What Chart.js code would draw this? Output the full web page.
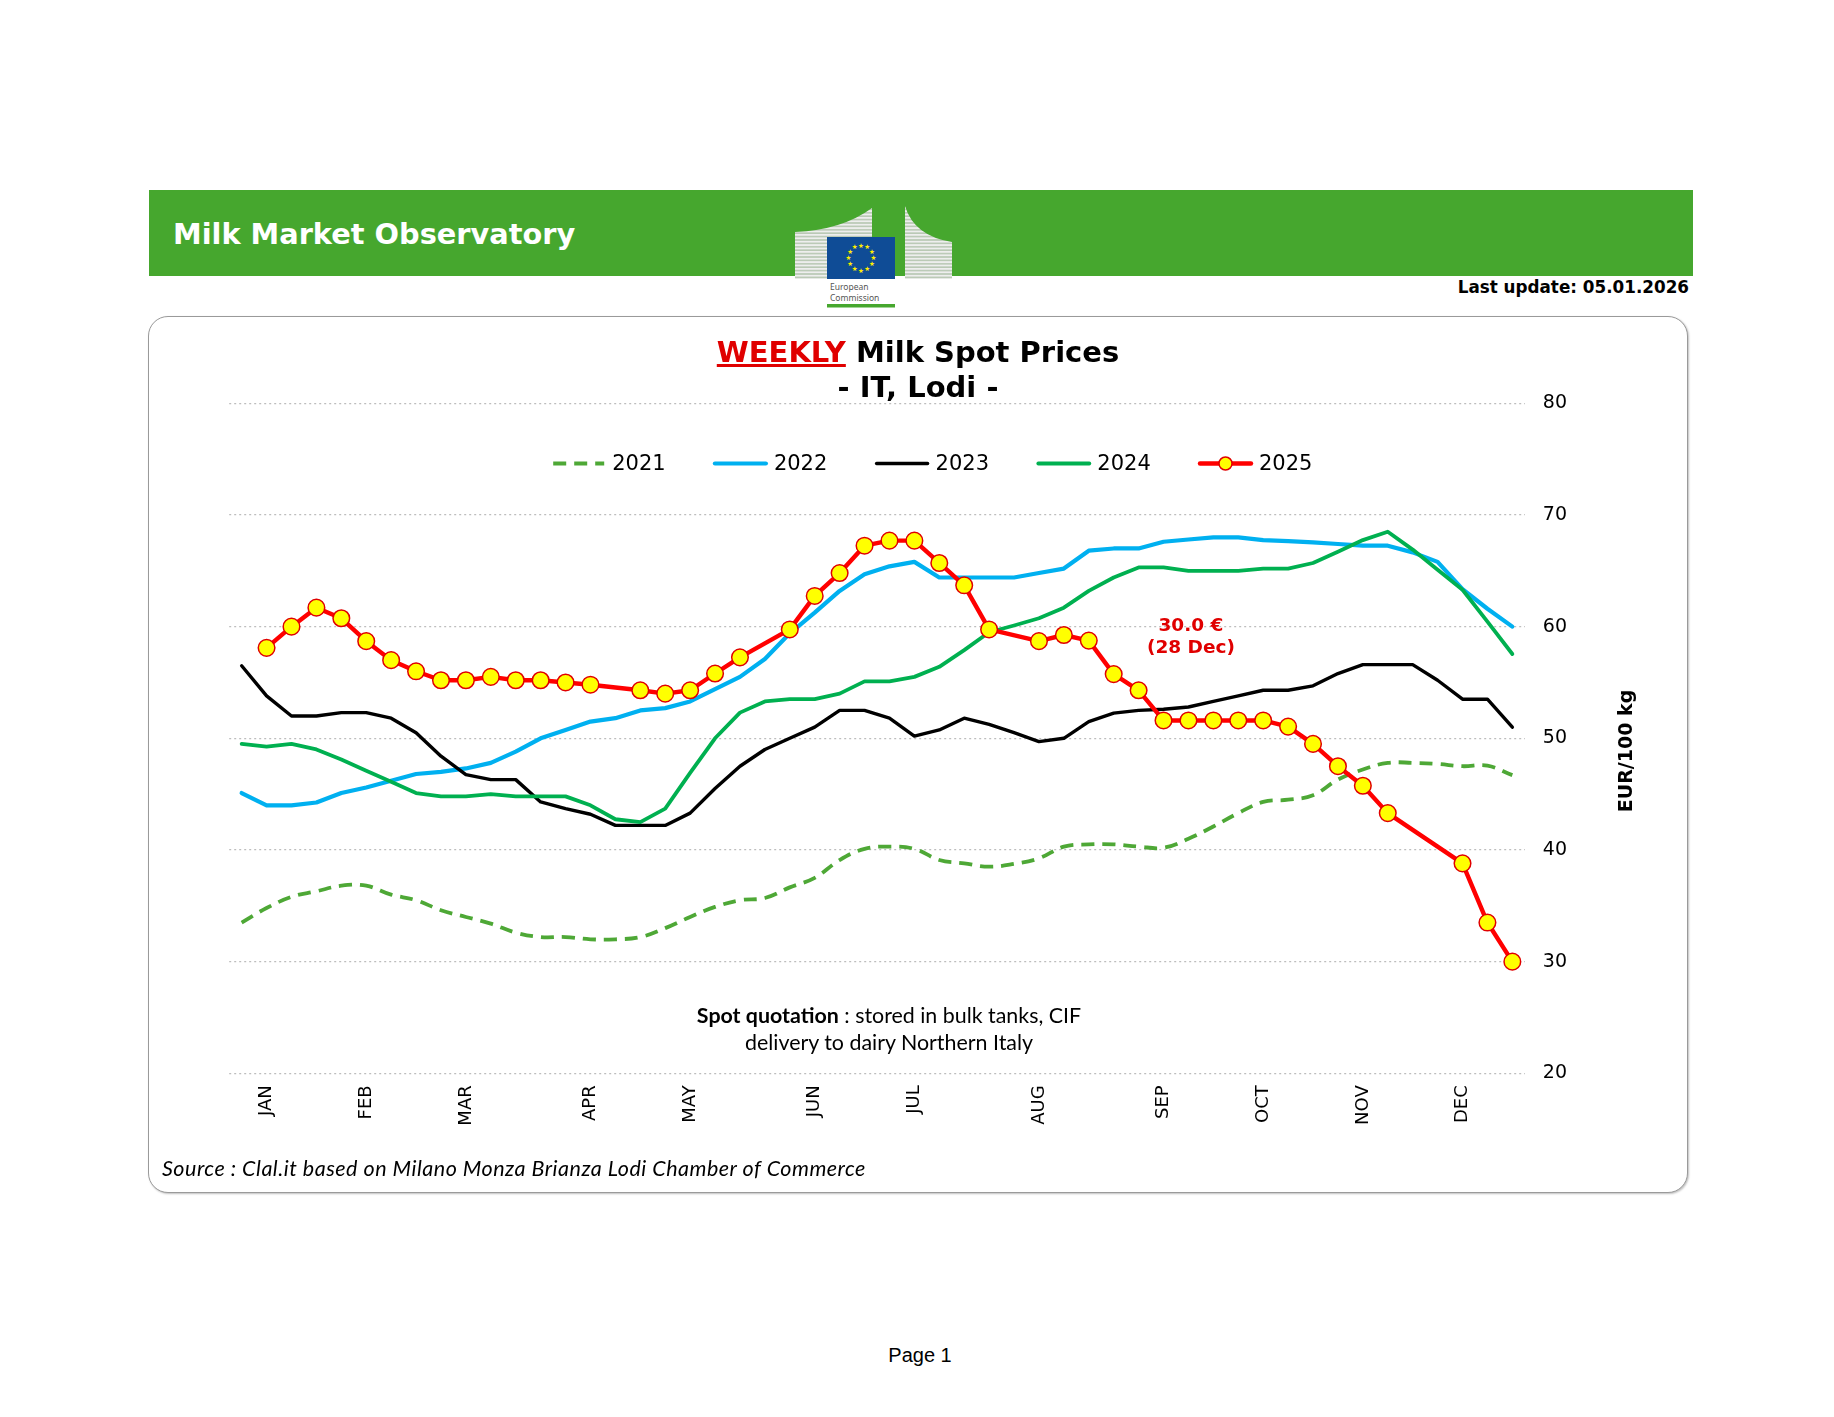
<!DOCTYPE html>
<html><head><meta charset="utf-8">
<script src="https://cdn.jsdelivr.net/npm/chart.js@4.4.1/dist/chart.umd.min.js"></script>
<style>
html,body{margin:0;padding:0;background:#fff;}
body{width:1834px;height:1417px;position:relative;overflow:hidden;font-family:"DejaVu Sans",sans-serif;}
.abs{position:absolute;}
#bar{left:149px;top:190px;width:1544px;height:86px;background:#46A72E;}
#mmo{left:173px;top:219.5px;color:#fff;font:bold 28.8px "DejaVu Sans";line-height:28.8px;white-space:nowrap;}
#upd{right:145px;top:278.5px;color:#000;font:bold 16.8px "DejaVu Sans";line-height:16.8px;white-space:nowrap;}
#box{left:148px;top:316px;width:1540px;height:877px;box-sizing:border-box;border:1.5px solid #9A9A9A;border-radius:20px;box-shadow:1px 1px 2px rgba(0,0,0,0.25);background:#fff;}
#cv{left:148px;top:316px;}
#title{left:418px;width:1000px;top:335px;text-align:center;font:bold 29px "DejaVu Sans";line-height:35px;color:#000;}
#title .wk{color:#E00000;text-decoration:underline;text-decoration-thickness:3px;text-underline-offset:2px;}
#spot{left:539px;width:700px;top:1002px;text-align:center;font:21.4px Lato;line-height:27px;color:#000;}
#src{left:162px;top:1158px;font:italic 21.5px Lato;letter-spacing:0.5px;line-height:21.5px;color:#000;white-space:nowrap;}
#page{left:820px;width:200px;top:1345px;text-align:center;font:20px "Liberation Sans";line-height:20px;color:#000;}
</style></head>
<body>
<div id="bar" class="abs"></div>
<div id="mmo" class="abs">Milk Market Observatory</div>
<svg class="abs" id="logo" style="left:790px;top:200px" width="170" height="115" viewBox="0 0 170 115">
  <defs>
    <pattern id="st" width="4" height="3.4" patternUnits="userSpaceOnUse">
      <rect width="4" height="3.4" fill="#B9C9B4"/>
      <rect width="4" height="1.8" fill="#EEEEEE"/>
    </pattern>
  </defs>
  <path d="M5 32 Q52 30 82 8 L82 79 L5 79 Z" fill="url(#st)"/>
  <path d="M115 6 Q124 36 162 42 L162 79 L115 79 Z" fill="url(#st)"/>
  <rect x="37" y="37" width="68" height="42" fill="#0F4C96"/>
  <g id="stars" fill="#FFED00" font-family="DejaVu Sans" font-size="6.5" text-anchor="middle" dominant-baseline="central"></g>
  <text x="40" y="90" font-size="8.5" fill="#555" font-family="Noto Sans">European</text>
  <text x="40" y="101" font-size="8.5" fill="#555" font-family="Noto Sans">Commission</text>
  <rect x="37" y="104" width="68" height="3.5" fill="#46A72E"/>
</svg>
<div id="upd" class="abs">Last update: 05.01.2026</div>
<div id="box" class="abs"></div>
<canvas id="cv" class="abs" width="1540" height="877"></canvas>
<div id="title" class="abs"><span class="wk">WEEKLY</span> Milk Spot Prices<br>- IT, Lodi -</div>
<div id="spot" class="abs"><b>Spot quotation</b> : stored in bulk tanks, CIF<br>delivery to dairy Northern Italy</div>
<div id="src" class="abs">Source : Clal.it based on Milano Monza Brianza Lodi Chamber of Commerce</div>
<div id="page" class="abs">Page 1</div>
<script>
// ---- data ----
const weekLabels = ['', 'JAN', '', '', '', 'FEB', '', '', '', 'MAR', '', '', '', '', 'APR', '', '', '', 'MAY', '', '', '', '', 'JUN', '', '', '', 'JUL', '', '', '', '', 'AUG', '', '', '', '', 'SEP', '', '', '', 'OCT', '', '', '', 'NOV', '', '', '', 'DEC', '', ''];
const seriesNames = ['2021', '2022', '2023', '2024', '2025'];
const y2021 = [33.5, 34.8, 35.8, 36.3, 36.8, 36.8, 36.0, 35.5, 34.6, 34.0, 33.4, 32.6, 32.2,
               32.2, 32.0, 32.0, 32.2, 33.0, 34.0, 34.9, 35.5, 35.7, 36.65, 37.5, 39.1, 40.1,
               40.3, 40.1, 39.1, 38.8, 38.5, 38.75, 39.25, 40.3, 40.5, 40.5, 40.3, 40.2, 41.0,
               42.1, 43.3, 44.3, 44.5, 44.9, 46.3, 47.2, 47.8, 47.8, 47.7, 47.5, 47.55, 46.7];
const y2022 = [45.1, 44.0, 44.0, 44.25, 45.1, 45.6, 46.2, 46.8, 47.0, 47.3, 47.8, 48.8, 50.0,
               50.75, 51.5, 51.8, 52.5, 52.7, 53.3, 54.4, 55.5, 57.1, 59.4, 61.25, 63.2, 64.7,
               65.4, 65.8, 64.4, 64.4, 64.4, 64.4, 64.8, 65.2, 66.8, 67.0, 67.0, 67.6, 67.8,
               68.0, 68.0, 67.75, 67.65, 67.55, 67.4, 67.25, 67.25, 66.65, 65.8, 63.35, 61.6, 60.0];
const y2023 = [56.5, 53.8, 52.0, 52.0, 52.3, 52.3, 51.8, 50.5, 48.4, 46.75, 46.3, 46.3, 44.3,
               43.7, 43.2, 42.2, 42.2, 42.2, 43.3, 45.5, 47.5, 49.0, 50.0, 51.0, 52.5, 52.5,
               51.8, 50.2, 50.75, 51.8, 51.25, 50.5, 49.7, 50.0, 51.5, 52.25, 52.5, 52.6, 52.8,
               53.3, 53.8, 54.3, 54.3, 54.7, 55.8, 56.6, 56.6, 56.6, 55.2, 53.5, 53.5, 51.0];
const y2024 = [49.5, 49.25, 49.5, 49.0, 48.1, 47.1, 46.1, 45.1, 44.8, 44.8, 45.0, 44.8, 44.8,
               44.8, 44.0, 42.75, 42.5, 43.7, 46.9, 50.0, 52.3, 53.3, 53.5, 53.5, 54.0, 55.1,
               55.1, 55.5, 56.4, 57.9, 59.5, 60.1, 60.75, 61.7, 63.2, 64.4, 65.3, 65.3, 65.0,
               65.0, 65.0, 65.2, 65.2, 65.7, 66.7, 67.75, 68.5, 66.9, 65.1, 63.3, 60.45, 57.55];
const y2025 = [null, 58.1, 60.0, 61.7, 60.75, 58.7, 57.0, 56.0, 55.2, 55.2, 55.5, 55.2, 55.2,
               55.0, 54.8, null, 54.3, 54.0, 54.3, 55.8, 57.25, null, 59.75, 62.75, 64.8, 67.25,
               67.7, 67.7, 65.7, 63.7, 59.75, null, 58.7, 59.25, 58.75, 55.75, 54.3, 51.6, 51.6,
               51.6, 51.6, 51.6, 51.05, 49.5, 47.5, 45.75, 43.3, null, null, 38.8, 33.5, 30.0];
const yTicks = [20, 30, 40, 50, 60, 70, 80];
const yTitle = 'EUR/100 kg';
const noteLines = ['30.0 €', '(28 Dec)'];
const noteAt = {index: 38.1, value: 59.6};

// ---- logo stars ----
(function(){
  const g = document.getElementById('stars');
  for (let k = 0; k < 12; k++) {
    const a = k * Math.PI / 6;
    const t = document.createElementNS('http://www.w3.org/2000/svg', 'text');
    t.setAttribute('x', (71 + 12.5 * Math.sin(a)).toFixed(2));
    t.setAttribute('y', (58 - 12.5 * Math.cos(a)).toFixed(2));
    t.textContent = '★';
    g.appendChild(t);
  }
})();

const FONT = '"DejaVu Sans", sans-serif';
Chart.defaults.font.family = FONT;
Chart.defaults.color = '#000';

const overlay = {
  id: 'overlay',
  afterDraw(chart) {
    const ctx = chart.ctx;
    const {x, y} = chart.scales;
    ctx.save();
    // legend
    const LX = 403.2, LSTEP = 161.7, LY = 147.5, SW = 55;
    chart.data.datasets.forEach((ds, k) => {
      const x0 = LX + k * LSTEP;
      ctx.beginPath();
      ctx.setLineDash(ds.borderDash || []);
      ctx.lineCap = ds.borderDash ? 'butt' : 'round';
      ctx.strokeStyle = ds.borderColor;
      ctx.lineWidth = ds.borderWidth;
      ctx.moveTo(x0 + 2, LY);
      ctx.lineTo(x0 + SW - 2, LY);
      ctx.stroke();
      ctx.setLineDash([]);
      if (ds.pointRadius > 0) {
        ctx.beginPath();
        ctx.arc(x0 + SW / 2, LY, 6.5, 0, Math.PI * 2);
        ctx.fillStyle = ds.pointBackgroundColor;
        ctx.fill();
        ctx.lineWidth = ds.pointBorderWidth;
        ctx.strokeStyle = ds.pointBorderColor;
        ctx.stroke();
      }
      ctx.fillStyle = '#000';
      ctx.font = '21px ' + FONT;
      ctx.textAlign = 'left';
      ctx.textBaseline = 'middle';
      ctx.fillText(ds.label, x0 + SW + 6, LY + 1);
    });
    // y axis title
    ctx.save();
    ctx.translate(1479, 435);
    ctx.rotate(-Math.PI / 2);
    ctx.font = 'bold 19px ' + FONT;
    ctx.textAlign = 'center';
    ctx.textBaseline = 'middle';
    ctx.fillStyle = '#000';
    ctx.fillText(yTitle, 0, 0);
    ctx.restore();
    // annotation
    const ax = x.getPixelForValue(noteAt.index);
    const ay = y.getPixelForValue(noteAt.value);
    ctx.font = 'bold 18.5px ' + FONT;
    ctx.fillStyle = '#E00000';
    ctx.textAlign = 'center';
    ctx.textBaseline = 'alphabetic';
    noteLines.forEach((t, i) => ctx.fillText(t, ax, ay + i * 22));
    ctx.restore();
  }
};

const mk = (label, data, extra) => Object.assign({
  label, data, borderWidth: 4, pointRadius: 0, pointHoverRadius: 0, tension: 0,
  borderCapStyle: 'round', borderJoinStyle: 'round', fill: false, spanGaps: true
}, extra);

new Chart(document.getElementById('cv'), {
  type: 'line',
  data: {
    labels: weekLabels,
    datasets: [
      mk(seriesNames[0], y2021, {borderColor: '#4EA836', borderWidth: 3.8, borderDash: [13, 8], borderCapStyle: 'butt', tension: 0.4, order: 4}),
      mk(seriesNames[1], y2022, {borderColor: '#00B0F0', borderWidth: 4.2, order: 3}),
      mk(seriesNames[2], y2023, {borderColor: '#000000', borderWidth: 3.4, order: 2}),
      mk(seriesNames[3], y2024, {borderColor: '#00B050', borderWidth: 3.8, order: 1}),
      mk(seriesNames[4], y2025, {borderColor: '#FF0000', borderWidth: 4.4, order: 0,
        pointRadius: 8.3, pointBackgroundColor: '#FFFF00', pointBorderColor: '#E00000', pointBorderWidth: 1.5})
    ]
  },
  options: {
    responsive: false,
    animation: false,
    events: [],
    layout: {padding: {left: 81.2, top: 87.3, right: 43.2, bottom: 19.7}},
    plugins: {legend: {display: false}, title: {display: false}, tooltip: {enabled: false}},
    scales: {
      x: {
        type: 'category',
        offset: true,
        grid: {display: false, drawTicks: false},
        border: {display: false},
        ticks: {autoSkip: false, maxRotation: 90, minRotation: 90, padding: 12,
                font: {size: 18, family: FONT}, color: '#000'},
        afterFit(s) { s.height = 100; }
      },
      y: {
        position: 'right',
        min: 20, max: 80,
        afterBuildTicks(s) { s.ticks = yTicks.map(v => ({value: v})); },
        grid: {color: '#BDBDBD', lineWidth: 1.3, drawTicks: false},
        border: {display: false, dash: [2, 3]},
        ticks: {padding: 18, font: {size: 19, family: FONT}, color: '#000'},
        afterFit(s) { s.width = 120; }
      }
    }
  },
  plugins: [overlay]
});
</script>
</body></html>
